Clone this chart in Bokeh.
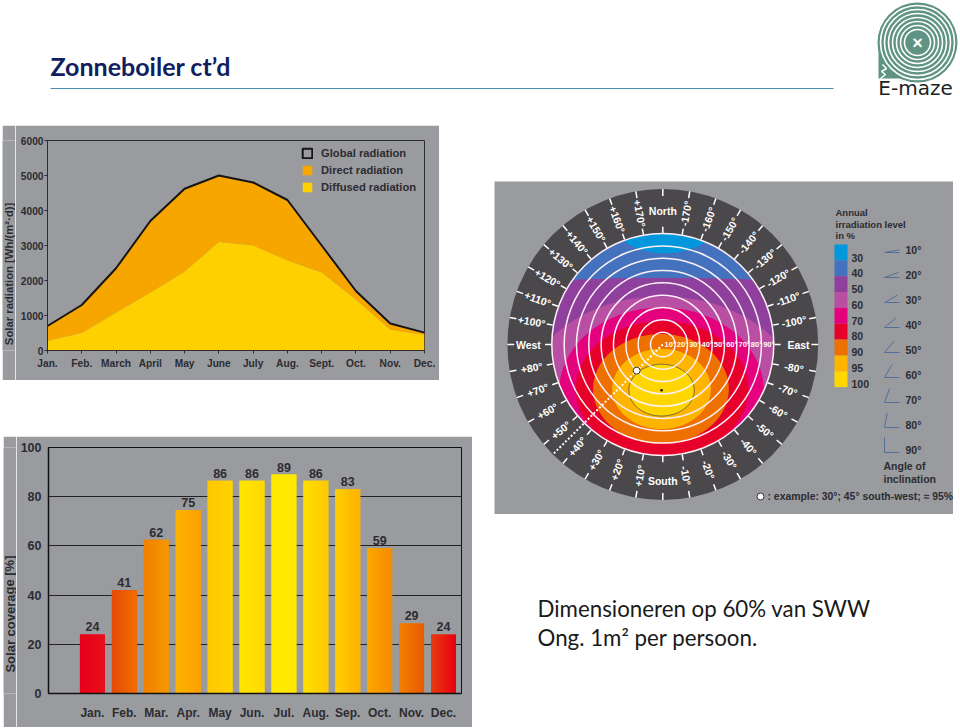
import numpy as np
from bokeh.plotting import figure
from bokeh.layouts import column, row
from bokeh.models import FixedTicker, Legend, LegendItem, Range1d
from bokeh.core.properties import value
from bokeh.embed import file_html
from bokeh.resources import INLINE

# ---- data ----
months_rad = ["Jan.", "Feb.", "March", "April", "May", "June", "July", "Aug.", "Sept.", "Oct.", "Nov.", "Dec."]
global_rad = [700, 1300, 2350, 3700, 4620, 5000, 4800, 4300, 3000, 1700, 770, 510]
diffuse_rad = [270, 500, 1080, 1650, 2250, 3100, 3000, 2570, 2230, 1450, 590, 440]

months_cov = ["Jan.", "Feb.", "Mar.", "Apr.", "May", "Jun.", "Jul.", "Aug.", "Sep.", "Oct.", "Nov.", "Dec."]
coverage_labels = [24, 41, 62, 75, 86, 86, 89, 86, 83, 59, 29, 24]
coverage_heights = [24, 42, 62.5, 74.5, 86.5, 86.5, 89, 86.5, 83, 59, 28.5, 24]
bar_left = ["#E8001C", "#E84A08", "#F28000", "#FDB400", "#FFC800", "#FFE600", "#FFEA00", "#FFE000", "#FFD000", "#FFA800", "#F28000", "#E83A10"]
bar_right = ["#E8101A", "#F27000", "#F79A00", "#FFA000", "#FFD400", "#FFD800", "#FFE800", "#FFC800", "#FFB000", "#F28C00", "#E85A00", "#E80010"]

# Polar chart: (centre x, centre y, radius x, radius y) in degrees of inclination
level_names = ["30", "40", "50", "60", "70", "80", "90", "95", "100"]
level_colors = ["#0097DC", "#4472BE", "#8E409C", "#B84FA3", "#E5007D", "#E6002A", "#EE7000", "#FFB400", "#FFD600"]
level_cx = [2, 0, 2, -0.5, -1, -0.5, -1.5, -1, -1]
level_cy = [105, 0, -273, -43, -38, -36, -36, -36, -37]
level_rx = [46, 90, 811, 111, 83, 70, 55, 40, 26.5]
level_ry = [31, 90, 327, 82, 68, 55, 44.5, 32.5, 21]
ring_degrees = [10, 20, 30, 40, 50, 60, 70, 80, 90]
azimuths_west = [10, 20, 30, 40, 50, 60, 70, 80, 100, 110, 120, 130, 140, 150, 160, 170]
inclination_angles = [10, 20, 30, 40, 50, 60, 70, 80, 90]
example_inclination = 30
example_azimuth = 45

GREY = "#9A9B9F"
DARK = "#2C2C31"
SANS = "Liberation Sans"


def axis_title_strip(width, height, text, font_size, y_center_from_bottom):
    """A narrow grey strip left of a chart that carries the chart's rotated axis title."""
    s = figure(width=width, height=height, x_range=Range1d(0, width), y_range=Range1d(0, height),
               output_backend="svg", toolbar_location=None, background_fill_color=GREY, border_fill_color=GREY,
               min_border=0, outline_line_color=None)
    s.axis.visible = False
    s.grid.visible = False
    s.text([width / 2], [y_center_from_bottom], text=[text], angle=[np.pi / 2], text_font=value(SANS),
           text_font_style="bold", text_font_size=font_size, text_color=DARK, text_align="center",
           text_baseline="middle")
    return s


# ---- header ----
hd = figure(width=960, height=125, x_range=Range1d(0, 960), y_range=Range1d(125, 0),
            output_backend="svg", toolbar_location=None, min_border=0, outline_line_color=None)
hd.axis.visible = False
hd.grid.visible = False
hd.text([50], [65], text=["Zonneboiler ct\u2019d"], text_font=value("Lato"), text_font_style="bold",
        text_font_size="25px", text_color="#10205F", text_baseline="middle")
hd.line([50, 833], [88, 88], line_color="#4A8FB0", line_width=1)
# logo
hd.quad(left=[878], right=[917], top=[42], bottom=[78], fill_color="#5F9384", line_color=None)
hd.circle([917], [42], radius=40, fill_color="#5F9384", line_color=None)
logo_rings = [37, 33, 29, 25, 21, 17, 13]
hd.circle([917] * 7, [42] * 7, radius=logo_rings, fill_color=None, line_color="white", line_width=1.6)
hd.circle([917], [42], radius=9, fill_color="#5F9384", line_color=None)
hd.text([917], [42], text=["\u00d7"], text_color="white", text_font=value(SANS), text_font_style="bold",
        text_font_size="18px", text_align="center", text_baseline="middle")
hd.line([880, 885, 881, 886, 882], [78, 74, 71, 68, 64], line_color="white", line_width=1.5)
hd.text([915], [87], text=["E-maze"], text_color="#1C2322", text_font=value("DejaVu Sans"),
        text_font_size="20px", text_align="center", text_baseline="middle")

# ---- solar radiation chart ----
p1 = figure(frame_width=377, frame_height=210, x_range=Range1d(0, 11), y_range=Range1d(0, 6000),
            output_backend="svg", toolbar_location=None, background_fill_color=GREY, border_fill_color=GREY,
            min_border_left=32, min_border_right=15, min_border_top=15, min_border_bottom=30,
            outline_line_color=DARK)
idx = list(range(12))
direct = p1.varea(idx, y1=diffuse_rad, y2=global_rad, fill_color="#F7A600")
diffuse = p1.varea(idx, y1=[0] * 12, y2=diffuse_rad, fill_color="#FFD000")
p1.line(idx, global_rad, line_color="#151515", line_width=2)
# off-range box: it exists only so that the legend can show the outlined square
sq = p1.quad(left=[-5], right=[-4], top=[-4000], bottom=[-5000], fill_color=None, line_color="#151515", line_width=2)
leg = Legend(items=[LegendItem(label="Global radiation", renderers=[sq]),
                    LegendItem(label="Direct radiation", renderers=[direct]),
                    LegendItem(label="Diffused radiation", renderers=[diffuse])],
             location=(254, 157), background_fill_alpha=0, border_line_color=None,
             label_text_font=SANS, label_text_font_style="bold", label_text_font_size="11.2px",
             label_text_color=DARK, glyph_width=12, glyph_height=12, spacing=5, padding=2, margin=0,
             label_standoff=8)
p1.add_layout(leg)
p1.grid.visible = False
p1.xaxis.ticker = FixedTicker(ticks=idx)
p1.xaxis.major_label_overrides = dict(zip(idx, months_rad))
p1.yaxis.ticker = FixedTicker(ticks=[0, 1000, 2000, 3000, 4000, 5000, 6000])
for ax in (p1.xaxis[0], p1.yaxis[0]):
    ax.major_label_text_font = SANS
    ax.major_label_text_font_style = "bold"
    ax.major_label_text_font_size = "10.2px"
    ax.major_label_text_color = DARK
    ax.axis_line_color = DARK
    ax.major_tick_line_color = DARK
    ax.major_tick_in = 0
    ax.major_tick_out = 3
    ax.minor_tick_line_color = None
p1.xaxis.major_label_standoff = 4
p1.yaxis.major_label_standoff = 1
p1.yaxis.major_label_orientation = "horizontal"
lab1 = axis_title_strip(13, 255, "Solar radiation [Wh/(m\u00b2\u00b7d)]", "11.3px", 93)

# ---- solar coverage chart ----
p2 = figure(frame_width=413, frame_height=246, x_range=Range1d(-1.375, 11.5625), y_range=Range1d(0, 100),
            output_backend="svg", toolbar_location=None, background_fill_color=GREY, border_fill_color=GREY,
            min_border_left=32, min_border_right=11, min_border_top=11, min_border_bottom=34,
            outline_line_color="#111111")
BAR_W = 0.78
p2.vbar(x=idx, top=coverage_heights, width=BAR_W, fill_color=bar_left, line_color=None)


def _rgb(h):
    return np.array([int(h[i:i + 2], 16) for i in (1, 3, 5)], dtype=float)


for i in idx:
    t = np.linspace(0, 1, 26)
    c = np.outer(1 - t, _rgb(bar_left[i])) + np.outer(t, _rgb(bar_right[i]))
    img = np.zeros((1, 26), dtype=np.uint32)
    view = img.view(dtype=np.uint8).reshape((1, 26, 4))
    view[0, :, :3] = c.astype(np.uint8)
    view[0, :, 3] = 255
    p2.image_rgba(image=[img], x=[i - BAR_W / 2], y=[0], dw=[BAR_W], dh=[coverage_heights[i]])

p2.text(idx, coverage_heights, text=[str(v) for v in coverage_labels], text_font=value(SANS),
        text_font_style="bold", text_font_size="12.5px", text_color=DARK, text_align="center",
        text_baseline="bottom", y_offset=-3)
p2.xgrid.visible = False
p2.ygrid.ticker = FixedTicker(ticks=[20, 40, 60, 80])
p2.ygrid.grid_line_color = "#222222"
p2.ygrid.grid_line_width = 1
p2.xaxis.ticker = FixedTicker(ticks=idx)
p2.xaxis.major_label_overrides = dict(zip(idx, months_cov))
p2.yaxis.ticker = FixedTicker(ticks=[0, 20, 40, 60, 80, 100])
for ax in (p2.xaxis[0], p2.yaxis[0]):
    ax.major_label_text_font = SANS
    ax.major_label_text_font_style = "bold"
    ax.major_label_text_color = DARK
    ax.axis_line_color = "#111111"
    ax.axis_line_width = 1.5
    ax.major_tick_line_color = None
    ax.minor_tick_line_color = None
p2.xaxis.major_label_text_font_size = "12px"
p2.yaxis.major_label_text_font_size = "12.5px"
p2.xaxis.major_label_standoff = 6
p2.yaxis.major_label_standoff = 1
p2.yaxis.major_label_orientation = "horizontal"
lab2 = axis_title_strip(13, 291, "Solar coverage [%]", "13px", 94)

# ---- polar chart (units: degrees of inclination) ----
K = 111 / 90  # px per degree
PW, PH = 459, 333
CX, CY = 168.3, 163  # centre in panel px
x0, x1 = -CX / K, (PW - CX) / K
y1, y0 = CY / K, -(PH - CY) / K
p3 = figure(width=PW, height=PH, x_range=Range1d(x0, x1), y_range=Range1d(y0, y1),
            output_backend="svg", toolbar_location=None, background_fill_color=GREY, border_fill_color=GREY,
            min_border=0, outline_line_color=None)
p3.axis.visible = False
p3.grid.visible = False


def lx(page_x):
    return (page_x - 494 - CX) / K


def ly(page_y):
    return -(page_y - 181 - CY) / K


R_OUT = 126
R_DISC = 90
p3.circle([0], [0], radius=R_OUT, fill_color="#4A484B", line_color=None)

order = [1, 0, 2, 3, 4, 5, 6, 7, 8]
th = np.linspace(0, 2 * np.pi, 721)
xs, ys, cols = [], [], []
for i in order:
    ex = level_cx[i] + level_rx[i] * np.cos(th)
    ey = level_cy[i] + level_ry[i] * np.sin(th)
    r = np.hypot(ex, ey)
    f = np.where(r > R_DISC, R_DISC / r, 1.0)
    xs.append((ex * f).tolist())
    ys.append((ey * f).tolist())
    cols.append(level_colors[i])
p3.patches(xs, ys, fill_color=cols, line_color=None)
p3.patch(xs[-1], ys[-1], fill_color=None, line_color="#555A4A", line_width=1)

p3.circle([0] * 9, [0] * 9, radius=ring_degrees, fill_color=None, line_color="#FDF0F6", line_width=1.5)

# azimuth ticks and labels
all_az = list(range(0, 360, 10))
a = np.radians(all_az)
sx, sy = -np.sin(a), -np.cos(a)
p3.segment(sx * 90.5, sy * 90.5, sx * 95.5, sy * 95.5, line_color="white", line_width=1.5)
p3.segment(sx * 120.5, sy * 120.5, sx * R_OUT, sy * R_OUT, line_color="white", line_width=1.5)

R_LAB = 108
lab_x, lab_y, lab_t, lab_ang = [], [], [], []
for az in azimuths_west:
    r_ = np.radians(az)
    lab_x.append(-np.sin(r_) * R_LAB)
    lab_y.append(-np.cos(r_) * R_LAB)
    lab_t.append(f"+{az}\u00b0")
    lab_ang.append(np.radians(90 - az))
    lab_x.append(np.sin(r_) * R_LAB)
    lab_y.append(-np.cos(r_) * R_LAB)
    lab_t.append(f"-{az}\u00b0")
    lab_ang.append(np.radians(az - 90))
p3.text(lab_x, lab_y, text=lab_t, angle=lab_ang, text_font=value(SANS), text_font_style="bold",
        text_font_size="10.5px", text_color="white", text_align="center", text_baseline="middle")
p3.text([0, 0, -R_LAB - 1, R_LAB + 2], [R_LAB, -R_LAB - 3, 0, 0], text=["North", "South", "West", "East"],
        text_font=value(SANS), text_font_style="bold", text_font_size="10.5px", text_color="white",
        text_align="center", text_baseline="middle")

# ring labels
p3.text([d - 4 for d in ring_degrees], [0] * 9, text=[f"{d}\u00b0" for d in ring_degrees],
        text_font=value(SANS), text_font_style="bold", text_font_size="7.5px", text_color="white",
        text_align="center", text_baseline="middle")

# example
ea = np.radians(example_azimuth)
p3.line([0, -np.sin(ea) * R_OUT], [0, -np.cos(ea) * R_OUT], line_color="white", line_width=2, line_dash="2 2")
p3.scatter([-np.sin(ea) * example_inclination], [-np.cos(ea) * example_inclination], size=7,
           fill_color="white", line_color="#333333", line_width=1)
p3.scatter([level_cx[-1]], [level_cy[-1]], size=2.5, fill_color="black", line_color=None)

# level legend
p3.text([lx(835)] * 3, [ly(212), ly(224), ly(235)], text=["Annual", "irradiation level", "in %"],
        text_font=value(SANS), text_font_style="bold", text_font_size="9.5px", text_color=DARK,
        text_baseline="middle")
swatch_h = 15.85
tops = [ly(244 + i * swatch_h) for i in range(9)]
bots = [ly(244 + (i + 1) * swatch_h) for i in range(9)]
p3.quad(left=[lx(834)] * 9, right=[lx(847)] * 9, top=tops, bottom=bots, fill_color=level_colors, line_color=None)
p3.text([lx(851)] * 9, [ly(257 + i * 15.75) for i in range(9)], text=level_names, text_font=value(SANS),
        text_font_style="bold", text_font_size="10.5px", text_color=DARK, text_baseline="middle")

# inclination legend
vx, bx = lx(884), lx(899)
base_y = [ly(252 + i * 25) for i in range(9)]
tx = [vx + 15 / K * np.cos(np.radians(d)) for d in inclination_angles]
ty = [b + 15 / K * np.sin(np.radians(d)) for b, d in zip(base_y, inclination_angles)]
p3.segment([vx] * 9, base_y, [bx] * 9, base_y, line_color="#52709A", line_width=1)
p3.segment([vx] * 9, base_y, tx, ty, line_color="#52709A", line_width=1)
p3.text([lx(905)] * 9, [ly(249 + i * 25) for i in range(9)], text=[f"{d}\u00b0" for d in inclination_angles],
        text_font=value(SANS), text_font_style="bold", text_font_size="10.5px", text_color=DARK,
        text_baseline="middle")
p3.text([lx(883)] * 2, [ly(465), ly(478)], text=["Angle of", "inclination"], text_font=value(SANS),
        text_font_style="bold", text_font_size="10.5px", text_color=DARK, text_baseline="middle")
p3.scatter([lx(760)], [ly(496)], size=7, fill_color="white", line_color="#333333", line_width=1)
p3.text([lx(767)], [ly(496)], text=[f": example: {example_inclination}\u00b0; {example_azimuth}\u00b0 south-west; \u2248 95%"],
        text_font=value(SANS), text_font_style="bold", text_font_size="10.4px", text_color=DARK,
        text_baseline="middle")

# ---- text below the polar chart ----
p4 = figure(width=459, height=150, x_range=Range1d(494, 953), y_range=Range1d(664, 514),
            output_backend="svg", toolbar_location=None, min_border=0, outline_line_color=None)
p4.axis.visible = False
p4.grid.visible = False
p4.text([537, 537], [608, 637], text=["Dimensioneren op 60% van SWW", "Ong. 1m\u00b2 per persoon."],
        text_font=value("Lato"), text_font_size="22.3px", text_color="#1A1A1A", text_baseline="middle")

row1 = row(lab1, p1, spacing=0, margin=(0, 0, 0, 2))
row2 = row(lab2, p2, spacing=0, margin=(56, 0, 0, 3))
left_col = column(row1, row2, spacing=0)
right_col = column(p3, p4, spacing=0, margin=(56, 0, 0, 22))
body = row(left_col, right_col, spacing=0)
page = column(hd, body, spacing=0, margin=(0, 0, 0, 0))

open("out.html", "w").write(file_html(page, INLINE))
